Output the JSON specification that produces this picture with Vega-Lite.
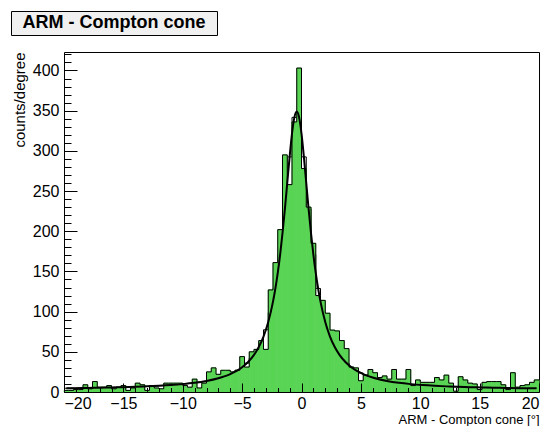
{
  "$schema": "https://vega.github.io/schema/vega-lite/v6.json",
  "padding": {"left": 10, "top": 10, "right": 10, "bottom": 0},
  "background": "white",
  "config": {"view": {"stroke": null}, "font": "Liberation Sans", "concat": {"spacing": 16}},
  "datasets": {
    "hist": [
      {"lo": -20.0, "hi": -19.6, "n": 2, "f": 4.7},
      {"lo": -19.6, "hi": -19.2, "n": 2, "f": 4.8},
      {"lo": -19.2, "hi": -18.8, "n": 3, "f": 4.8},
      {"lo": -18.8, "hi": -18.4, "n": 3, "f": 4.9},
      {"lo": -18.4, "hi": -18.0, "n": 9, "f": 5.0},
      {"lo": -18.0, "hi": -17.6, "n": 4, "f": 5.1},
      {"lo": -17.6, "hi": -17.2, "n": 13, "f": 5.2},
      {"lo": -17.2, "hi": -16.8, "n": 6, "f": 5.3},
      {"lo": -16.8, "hi": -16.4, "n": 6, "f": 5.4},
      {"lo": -16.4, "hi": -16.0, "n": 8, "f": 5.5},
      {"lo": -16.0, "hi": -15.6, "n": 4, "f": 5.7},
      {"lo": -15.6, "hi": -15.2, "n": 6, "f": 5.8},
      {"lo": -15.2, "hi": -14.8, "n": 8, "f": 6.0},
      {"lo": -14.8, "hi": -14.4, "n": 2, "f": 6.2},
      {"lo": -14.4, "hi": -14.0, "n": 5, "f": 6.3},
      {"lo": -14.0, "hi": -13.6, "n": 11, "f": 6.5},
      {"lo": -13.6, "hi": -13.2, "n": 9, "f": 6.7},
      {"lo": -13.2, "hi": -12.8, "n": 2, "f": 7.0},
      {"lo": -12.8, "hi": -12.4, "n": 8, "f": 7.3},
      {"lo": -12.4, "hi": -12.0, "n": 5, "f": 7.5},
      {"lo": -12.0, "hi": -11.6, "n": 4, "f": 7.9},
      {"lo": -11.6, "hi": -11.2, "n": 11, "f": 8.2},
      {"lo": -11.2, "hi": -10.8, "n": 11, "f": 8.6},
      {"lo": -10.8, "hi": -10.4, "n": 11, "f": 9.1},
      {"lo": -10.4, "hi": -10.0, "n": 11, "f": 9.5},
      {"lo": -10.0, "hi": -9.6, "n": 8, "f": 10.1},
      {"lo": -9.6, "hi": -9.2, "n": 6, "f": 10.7},
      {"lo": -9.2, "hi": -8.8, "n": 16, "f": 11.4},
      {"lo": -8.8, "hi": -8.4, "n": 5, "f": 12.3},
      {"lo": -8.4, "hi": -8.0, "n": 11, "f": 13.2},
      {"lo": -8.0, "hi": -7.6, "n": 25, "f": 14.3},
      {"lo": -7.6, "hi": -7.2, "n": 30, "f": 15.6},
      {"lo": -7.2, "hi": -6.8, "n": 22, "f": 17.1},
      {"lo": -6.8, "hi": -6.4, "n": 27, "f": 18.9},
      {"lo": -6.4, "hi": -6.0, "n": 27, "f": 21.0},
      {"lo": -6.0, "hi": -5.6, "n": 25, "f": 23.6},
      {"lo": -5.6, "hi": -5.2, "n": 27, "f": 26.9},
      {"lo": -5.2, "hi": -4.8, "n": 44, "f": 30.9},
      {"lo": -4.8, "hi": -4.4, "n": 31, "f": 35.9},
      {"lo": -4.4, "hi": -4.0, "n": 50, "f": 42.3},
      {"lo": -4.0, "hi": -3.6, "n": 53, "f": 50.8},
      {"lo": -3.6, "hi": -3.2, "n": 64, "f": 62.0},
      {"lo": -3.2, "hi": -2.8, "n": 53, "f": 77.4},
      {"lo": -2.8, "hi": -2.4, "n": 127, "f": 98.6},
      {"lo": -2.4, "hi": -2.0, "n": 161, "f": 128.8},
      {"lo": -2.0, "hi": -1.6, "n": 202, "f": 171.0},
      {"lo": -1.6, "hi": -1.2, "n": 295, "f": 227.7},
      {"lo": -1.2, "hi": -0.8, "n": 258, "f": 292.5},
      {"lo": -0.8, "hi": -0.4, "n": 336, "f": 341.7},
      {"lo": -0.4, "hi": 0.0, "n": 403, "f": 341.7},
      {"lo": 0.0, "hi": 0.4, "n": 278, "f": 292.5},
      {"lo": 0.4, "hi": 0.8, "n": 230, "f": 227.7},
      {"lo": 0.8, "hi": 1.2, "n": 185, "f": 171.0},
      {"lo": 1.2, "hi": 1.6, "n": 120, "f": 128.8},
      {"lo": 1.6, "hi": 2.0, "n": 114, "f": 98.6},
      {"lo": 2.0, "hi": 2.4, "n": 98, "f": 77.4},
      {"lo": 2.4, "hi": 2.8, "n": 77, "f": 62.0},
      {"lo": 2.8, "hi": 3.2, "n": 76, "f": 50.8},
      {"lo": 3.2, "hi": 3.6, "n": 64, "f": 42.3},
      {"lo": 3.6, "hi": 4.0, "n": 54, "f": 35.9},
      {"lo": 4.0, "hi": 4.4, "n": 31, "f": 30.9},
      {"lo": 4.4, "hi": 4.8, "n": 30, "f": 26.9},
      {"lo": 4.8, "hi": 5.2, "n": 14, "f": 23.6},
      {"lo": 5.2, "hi": 5.6, "n": 21, "f": 21.0},
      {"lo": 5.6, "hi": 6.0, "n": 28, "f": 18.9},
      {"lo": 6.0, "hi": 6.4, "n": 24, "f": 17.1},
      {"lo": 6.4, "hi": 6.8, "n": 18, "f": 15.6},
      {"lo": 6.8, "hi": 7.2, "n": 20, "f": 14.3},
      {"lo": 7.2, "hi": 7.6, "n": 16, "f": 13.2},
      {"lo": 7.6, "hi": 8.0, "n": 28, "f": 12.3},
      {"lo": 8.0, "hi": 8.4, "n": 16, "f": 11.4},
      {"lo": 8.4, "hi": 8.8, "n": 16, "f": 10.7},
      {"lo": 8.8, "hi": 9.2, "n": 28, "f": 10.1},
      {"lo": 9.2, "hi": 9.6, "n": 8, "f": 9.5},
      {"lo": 9.6, "hi": 10.0, "n": 15, "f": 9.1},
      {"lo": 10.0, "hi": 10.4, "n": 12, "f": 8.6},
      {"lo": 10.4, "hi": 10.8, "n": 12, "f": 8.2},
      {"lo": 10.8, "hi": 11.2, "n": 12, "f": 7.9},
      {"lo": 11.2, "hi": 11.6, "n": 18, "f": 7.5},
      {"lo": 11.6, "hi": 12.0, "n": 15, "f": 7.3},
      {"lo": 12.0, "hi": 12.4, "n": 21, "f": 7.0},
      {"lo": 12.4, "hi": 12.8, "n": 11, "f": 6.7},
      {"lo": 12.8, "hi": 13.2, "n": 1, "f": 6.5},
      {"lo": 13.2, "hi": 13.6, "n": 19, "f": 6.3},
      {"lo": 13.6, "hi": 14.0, "n": 15, "f": 6.2},
      {"lo": 14.0, "hi": 14.4, "n": 11, "f": 6.0},
      {"lo": 14.4, "hi": 14.8, "n": 10, "f": 5.8},
      {"lo": 14.8, "hi": 15.2, "n": 3, "f": 5.7},
      {"lo": 15.2, "hi": 15.6, "n": 12, "f": 5.5},
      {"lo": 15.6, "hi": 16.0, "n": 13, "f": 5.4},
      {"lo": 16.0, "hi": 16.4, "n": 13, "f": 5.3},
      {"lo": 16.4, "hi": 16.8, "n": 13, "f": 5.2},
      {"lo": 16.8, "hi": 17.2, "n": 9, "f": 5.1},
      {"lo": 17.2, "hi": 17.6, "n": 3, "f": 5.0},
      {"lo": 17.6, "hi": 18.0, "n": 24, "f": 4.9},
      {"lo": 18.0, "hi": 18.4, "n": 6, "f": 4.8},
      {"lo": 18.4, "hi": 18.8, "n": 8, "f": 4.8},
      {"lo": 18.8, "hi": 19.2, "n": 9, "f": 4.7},
      {"lo": 19.2, "hi": 19.6, "n": 12, "f": 4.6},
      {"lo": 19.6, "hi": 20.0, "n": 15, "f": 4.6}
    ],
    "curve": [
      {"x": -19.8, "y": 4.7}, {"x": -19, "y": 4.8}, {"x": -18, "y": 5.1}, {"x": -17, "y": 5.3},
      {"x": -16, "y": 5.6}, {"x": -15, "y": 6.0}, {"x": -14, "y": 6.4}, {"x": -13, "y": 7.0},
      {"x": -12, "y": 7.7}, {"x": -11, "y": 8.6}, {"x": -10, "y": 9.8}, {"x": -9, "y": 11.4},
      {"x": -8, "y": 13.7}, {"x": -7, "y": 17.1}, {"x": -6.5, "y": 19.4}, {"x": -6, "y": 22.3},
      {"x": -5.5, "y": 25.9}, {"x": -5, "y": 30.8}, {"x": -4.5, "y": 37.3}, {"x": -4, "y": 46.2},
      {"x": -3.6, "y": 55.9}, {"x": -3.2, "y": 69.0}, {"x": -2.8, "y": 87.1}, {"x": -2.4, "y": 112.5},
      {"x": -2.2, "y": 128.8}, {"x": -2.0, "y": 148.1}, {"x": -1.8, "y": 171.0}, {"x": -1.6, "y": 197.6},
      {"x": -1.4, "y": 227.5}, {"x": -1.2, "y": 260.1}, {"x": -1.0, "y": 292.5}, {"x": -0.8, "y": 321.4},
      {"x": -0.6, "y": 341.7}, {"x": -0.4, "y": 349.0}, {"x": -0.2, "y": 341.7}, {"x": 0.0, "y": 321.4},
      {"x": 0.2, "y": 292.5}, {"x": 0.4, "y": 260.1}, {"x": 0.6, "y": 227.5}, {"x": 0.8, "y": 197.6},
      {"x": 1.0, "y": 171.0}, {"x": 1.2, "y": 148.1}, {"x": 1.4, "y": 128.8}, {"x": 1.6, "y": 112.5},
      {"x": 2.0, "y": 87.1}, {"x": 2.4, "y": 69.0}, {"x": 2.8, "y": 55.9}, {"x": 3.2, "y": 46.2},
      {"x": 3.7, "y": 37.3}, {"x": 4.2, "y": 30.8}, {"x": 4.7, "y": 25.9}, {"x": 5.2, "y": 22.3},
      {"x": 5.7, "y": 19.4}, {"x": 6.2, "y": 17.1}, {"x": 7.2, "y": 13.7}, {"x": 8.2, "y": 11.4},
      {"x": 9.2, "y": 9.8}, {"x": 10.2, "y": 8.6}, {"x": 11.2, "y": 7.7}, {"x": 12.2, "y": 7.0},
      {"x": 13.2, "y": 6.4}, {"x": 14.2, "y": 6.0}, {"x": 15.2, "y": 5.6}, {"x": 16.2, "y": 5.3},
      {"x": 17.2, "y": 5.1}, {"x": 18.2, "y": 4.8}, {"x": 19.2, "y": 4.7}, {"x": 19.8, "y": 4.6}
    ]
  },
  "vconcat": [
    {
      "width": 206,
      "height": 24,
      "view": {"fill": "#f0f0f0", "stroke": "black", "strokeWidth": 1},
      "data": {"values": [{"t": "ARM - Compton cone"}]},
      "mark": {"type": "text", "font": "Liberation Sans", "fontWeight": "bold", "fontSize": 18, "color": "black", "baseline": "middle", "align": "center"},
      "encoding": {"text": {"field": "t", "type": "nominal"}}
    },
    {
      "width": 528,
      "height": 340,
      "resolve": {"axis": {"x": "independent", "y": "independent"}},
      "layer": [
        {
          "data": {"name": "hist"},
          "transform": [{"fold": ["lo", "hi"], "as": ["side", "edge"]}],
          "mark": {"type": "line", "color": "black", "strokeWidth": 1},
          "encoding": {
            "x": {"field": "edge", "type": "quantitative", "scale": {"domain": [-20, 20], "range": [53, 528], "nice": false, "zero": false},
              "axis": {"orient": "top", "labels": false, "ticks": false, "domain": true, "domainColor": "black", "domainWidth": 1, "grid": false, "title": null}},
            "y": {"field": "f", "type": "quantitative", "scale": {"domain": [0, 423], "nice": false},
              "axis": {"orient": "right", "labels": false, "ticks": false, "domain": true, "domainColor": "black", "domainWidth": 1, "grid": false, "title": null}},
            "order": [{"field": "edge", "type": "quantitative"}, {"field": "side", "type": "ordinal"}]
          }
        },
        {
          "data": {"name": "hist"},
          "mark": {"type": "rect", "color": "#59d454", "stroke": "#59d454", "strokeWidth": 0.8},
          "encoding": {
            "x": {"field": "lo", "type": "quantitative", "scale": {"domain": [-20, 20], "range": [53, 528], "nice": false, "zero": false},
              "axis": {"orient": "bottom", "values": [-20, -15, -10, -5, 0, 5, 10, 15, 20], "tickSize": -9, "tickColor": "black", "tickWidth": 1,
                "domainColor": "black", "domainWidth": 1, "labelFontSize": 16, "labelColor": "black", "labelPadding": 12, "labelFont": "Liberation Sans",
                "grid": false, "zindex": 1, "title": "ARM - Compton cone [°]", "titleFontSize": 13, "titleFontWeight": "normal", "titleFont": "Liberation Sans",
                "titleColor": "black", "titleX": 528, "titleY": 21, "titleAlign": "right", "titleBaseline": "top", "titleAnchor": "end"}},
            "x2": {"field": "hi"},
            "y": {"field": "n", "type": "quantitative", "scale": {"domain": [0, 423], "nice": false},
              "axis": {"orient": "left", "offset": -53, "values": [0, 50, 100, 150, 200, 250, 300, 350, 400], "tickSize": -13, "tickColor": "black", "tickWidth": 1,
                "domainColor": "black", "domainWidth": 1, "labelFontSize": 16, "labelColor": "black", "labelPadding": 18, "labelFont": "Liberation Sans",
                "grid": false, "zindex": 1, "title": "counts/degree", "titleFontSize": 15, "titleFontWeight": "normal", "titleFont": "Liberation Sans",
                "titleColor": "black", "titleX": -52, "titleY": 0, "titleAngle": -90, "titleAlign": "right", "titleBaseline": "top"}},
            "y2": {"datum": 0}
          }
        },
        {
          "data": {"name": "hist"},
          "transform": [{"fold": ["lo", "hi"], "as": ["side", "edge"]}],
          "mark": {"type": "line", "color": "black", "strokeWidth": 1},
          "encoding": {
            "x": {"field": "edge", "type": "quantitative", "scale": {"domain": [-20, 20], "range": [53, 528], "nice": false, "zero": false},
              "axis": {"orient": "bottom", "values": [-19, -18, -17, -16, -14, -13, -12, -11, -9, -8, -7, -6, -4, -3, -2, -1, 1, 2, 3, 4, 6, 7, 8, 9, 11, 12, 13, 14, 16, 17, 18, 19],
                "tickSize": -4.5, "tickColor": "black", "labels": false, "domain": false, "grid": false, "title": null, "zindex": 1}},
            "y": {"field": "n", "type": "quantitative", "scale": {"domain": [0, 423], "nice": false},
              "axis": {"orient": "left", "offset": -53, "values": [10, 20, 30, 40, 60, 70, 80, 90, 110, 120, 130, 140, 160, 170, 180, 190, 210, 220, 230, 240, 260, 270, 280, 290, 310, 320, 330, 340, 360, 370, 380, 390, 410, 420],
                "tickSize": -7, "tickColor": "black", "labels": false, "domain": false, "grid": false, "title": null, "zindex": 1}},
            "order": [{"field": "edge", "type": "quantitative"}, {"field": "side", "type": "ordinal"}]
          }
        },
        {
          "data": {"name": "curve"},
          "mark": {"type": "line", "color": "black", "strokeWidth": 2, "interpolate": "monotone"},
          "encoding": {
            "x": {"field": "x", "type": "quantitative", "scale": {"domain": [-20, 20], "range": [53, 528], "nice": false, "zero": false}, "axis": null},
            "y": {"field": "y", "type": "quantitative", "scale": {"domain": [0, 423], "nice": false}, "axis": null}
          }
        }
      ]
    }
  ]
}
